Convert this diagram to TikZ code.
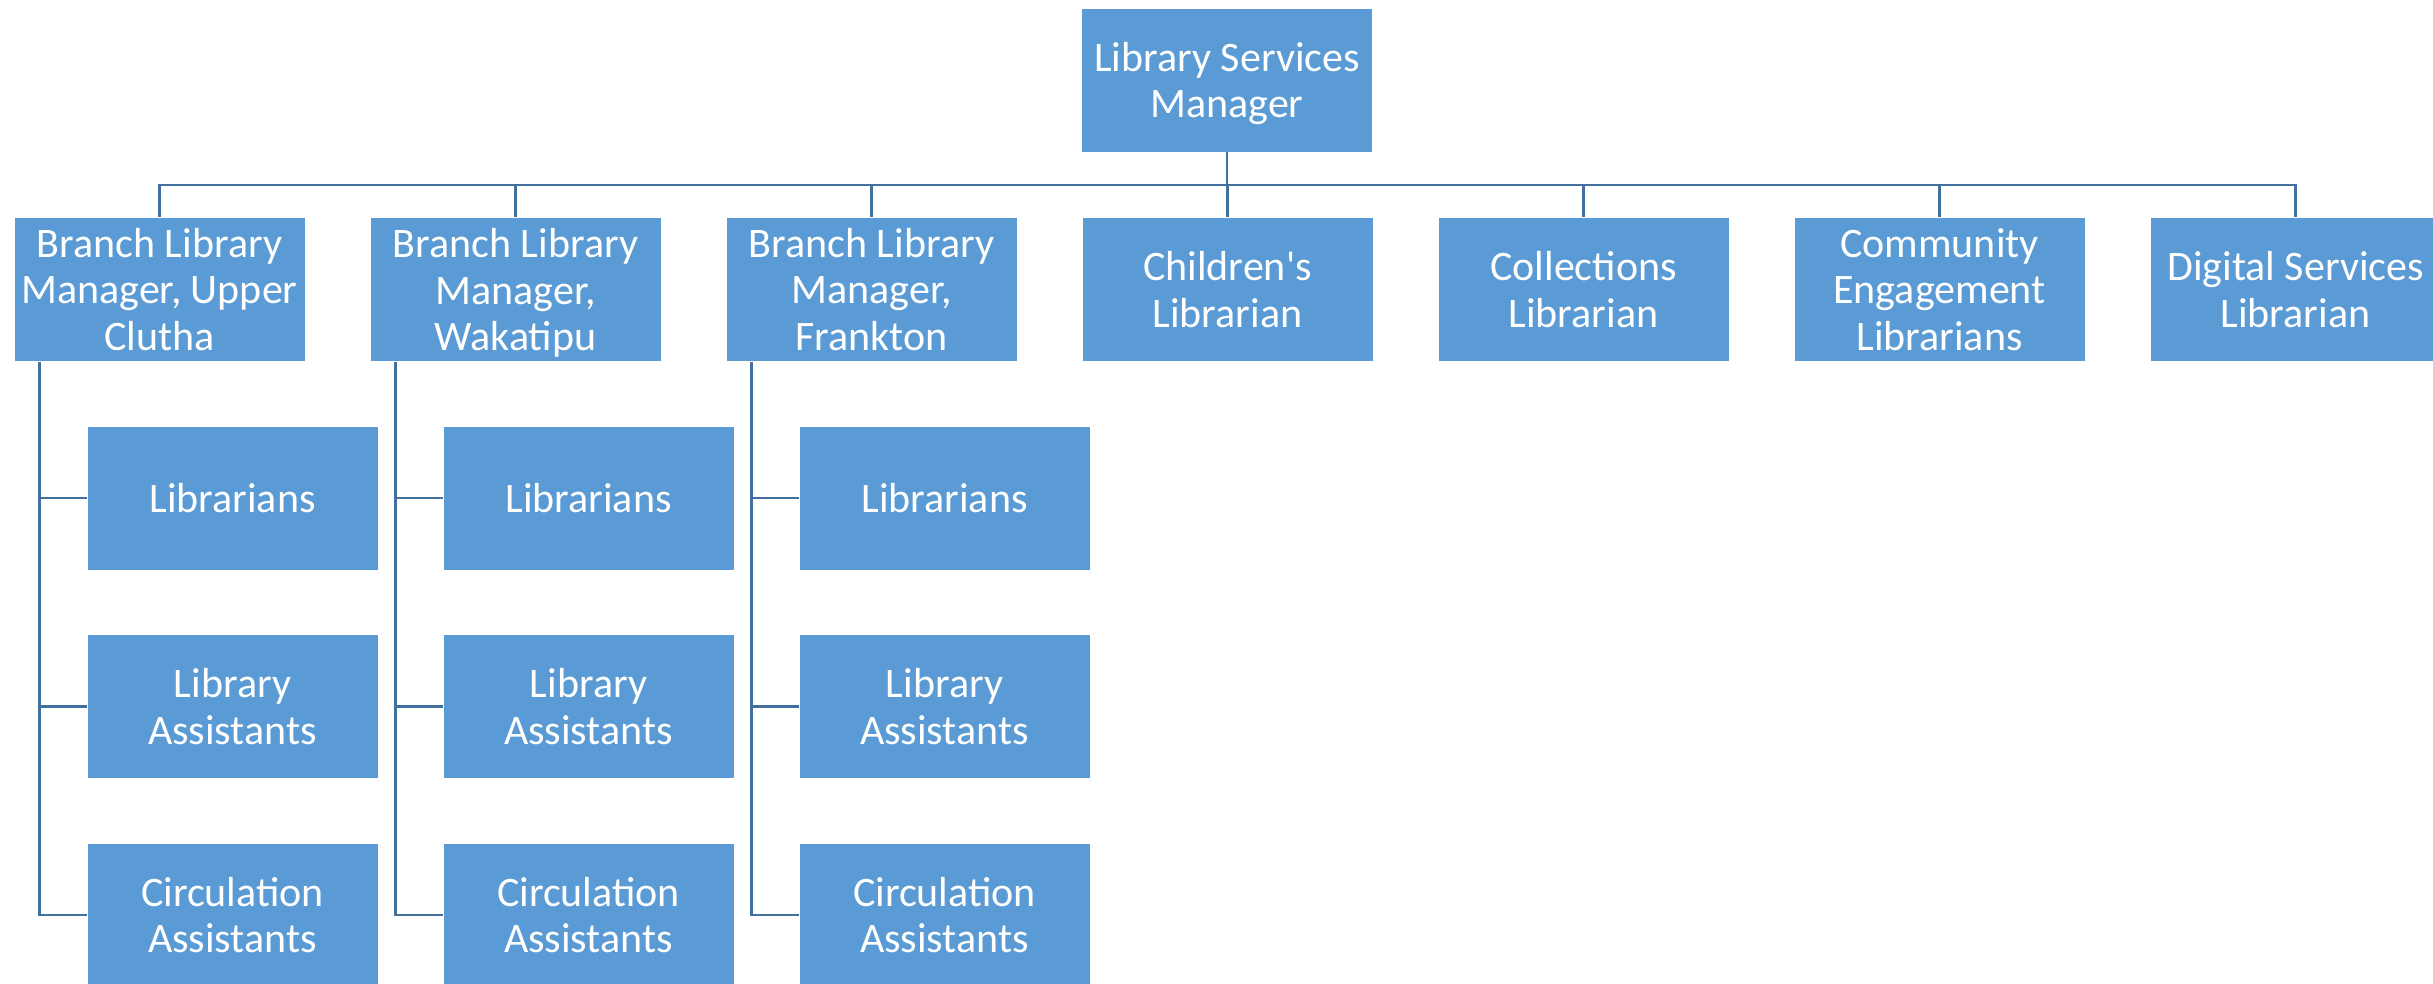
\documentclass[tikz,border=0pt]{standalone}
\usepackage{fontspec}
\setmainfont{Carlito}
\definecolor{boxblue}{HTML}{5B9BD5}
\definecolor{lineblue}{HTML}{41719C}

\begin{document}
\begin{tikzpicture}[x=0.5pt,y=-0.5pt]
        \tikzstyle{every node}=[font=\fontsize{21}{23.3}\selectfont]
        \tikzstyle{post}=[fill=boxblue, draw=white, line width=0.4pt, text=white, align=center,
            minimum width=145.5pt, minimum height=72pt, inner sep=0pt]
        \tikzstyle{link}=[draw=lineblue, line width=1.3pt]

        \useasboundingbox (0,0) rectangle (2433,984);

        \node[post] (Manager) at (1227,80) {Library Services\\\smash{Manager}};

        \node[post] (UpperClutha) at (159.5,289.5) {Branch Library\\Manager, Upper\\Clutha};
        \node[post] (Wakatipu) at (515.5,289.5) {Branch Library\\Manager,\\\smash{Wakatipu}};
        \node[post] (Frankton) at (871.5,289.5) {Branch Library\\Manager,\\Frankton};
        \node[post] (Childrens) at (1227.5,289.5) {Children\textquotesingle s\\Librarian};
        \node[post] (Collections) at (1583.5,289.5) {Collections\\Librarian};
        \node[post] (Community) at (1939.5,289.5) {Community\\Engagement\\Librarians};
        \node[post] (Digital) at (2295.5,289.5) {Digital Services\\Librarian};

        % staff under each branch
        \foreach \b/\x in {UpperClutha/232.5, Wakatipu/588.5, Frankton/944.5} {
            \node[post] (Librarians\b) at (\x,498) {Librarians};
            \node[post] (LibAssist\b) at (\x,706.5) {Library\\Assistants};
            \node[post] (CircAssist\b) at (\x,915) {Circulation\\Assistants};
        }

        \foreach \n in {UpperClutha,Wakatipu,Frankton,Childrens,Collections,Community,Digital}
            \draw[link] (Manager.south) -- (Manager.south |- 0,185) -| (\n.north);

        \foreach \b in {UpperClutha,Wakatipu,Frankton}
            \foreach \s in {Librarians,LibAssist,CircAssist}
                \draw[link] ([xshift=13pt]\b.south west) |- (\s\b.west);
    \end{tikzpicture}
\end{document}
